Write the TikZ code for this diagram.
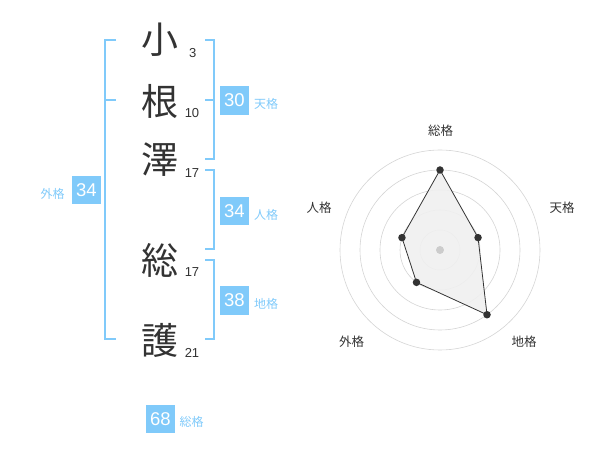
\documentclass[tikz,border=0pt]{standalone}
\usepackage{fontspec}
\setmainfont{Liberation Sans}
\newfontfamily\jp{Noto Sans CJK JP}
\definecolor{bl}{RGB}{128,202,250}
\definecolor{tx}{RGB}{51,51,51}
\begin{document}
\begin{tikzpicture}[x=1pt,y=-1pt,
 kan/.style={font=\jp\fontsize{37}{37}\selectfont, text=tx, inner sep=0},
 num/.style={font=\fontsize{13}{13}\selectfont, text=tx, inner sep=0},
 val/.style={fill=bl, text=white, minimum width=28.5, minimum height=28.5, inner sep=0, font=\fontsize{18.5}{18}\selectfont},
 lab/.style={font=\jp\fontsize{12}{12}\selectfont, text=bl, inner sep=0},
 br/.style={draw=bl, line width=2},
 rlab/.style={font=\jp\fontsize{12.5}{12.5}\selectfont, text=tx, inner sep=0},
 ring/.style={draw=black!17, line width=0.6},
 dot/.style={circle, fill=tx, inner sep=0, minimum size=7.5},
]
\useasboundingbox (0,0) rectangle (600,470);
% name characters
\node[kan] (c1) at (160,40) {小};
\node[kan] (c2) at (160,101.5) {根};
\node[kan] (c3) at (160,160) {澤};
\node[kan] (c4) at (160,260) {総};
\node[kan] (c5) at (160,340) {護};
\node[num] (n1) at (192.7,53.3) {3};
\node[num] (n2) at (192,112.7) {10};
\node[num] (n3) at (192,173) {17};
\node[num] (n4) at (192,272) {17};
\node[num] (n5) at (192,352.7) {21};
% brackets
\draw[br] (116,40) -- (105,40) -- (105,339) -- (116,339);
\draw[br] (105,100) -- (116,100);
\draw[br] (205,40) -- (214,40) -- (214,159) -- (205,159);
\draw[br] (205,100) -- (214,100);
\draw[br] (205,170) -- (214,170) -- (214,249) -- (205,249);
\draw[br] (205,260) -- (214,260) -- (214,339) -- (205,339);
% values
\node[val] (v1) at (234.5,100.5) {30};
\node[lab] (l1) at (266,104) {天格};
\node[val] (v2) at (234.5,211) {34};
\node[lab] (l2) at (266,214.5) {人格};
\node[val] (v3) at (234.5,300.5) {38};
\node[lab] (l3) at (266,304) {地格};
\node[val] (v4) at (86.3,190) {34};
\node[lab] (l4) at (52.7,194) {外格};
\node[val] (v5) at (160.3,419) {68};
\node[lab] (l5) at (191.7,422.3) {総格};
% radar
\begin{scope}[shift={(440,250)}, yscale=-1]
 \foreach \r in {20,40,60,80,100} \draw[ring] (0,0) circle (\r);
 \coordinate (pS) at (90:80);
 \coordinate (pT) at (18:40);
 \coordinate (pC) at (-54:80);
 \coordinate (pG) at (-126:40);
 \coordinate (pJ) at (162:40);
 \fill[black!6, opacity=0.9] (pS) -- (pT) -- (pC) -- (pG) -- (pJ) -- cycle;
 \draw[tx, line width=0.8] (pS) -- (pT) -- (pC) -- (pG) -- (pJ) -- cycle;
 \node[circle, fill=black!20, inner sep=0, minimum size=8] (ctr) at (0,0) {};
 \foreach \p in {pS,pT,pC,pG,pJ} \node[dot] at (\p) {};
\end{scope}
\node[rlab] (rS) at (440.7,130.7) {総格};
\node[rlab] (rT) at (562,208) {天格};
\node[rlab] (rJ) at (319,208) {人格};
\node[rlab] (rG) at (351.7,341.7) {外格};
\node[rlab] (rC) at (524,341.7) {地格};
\end{tikzpicture}
\end{document}
